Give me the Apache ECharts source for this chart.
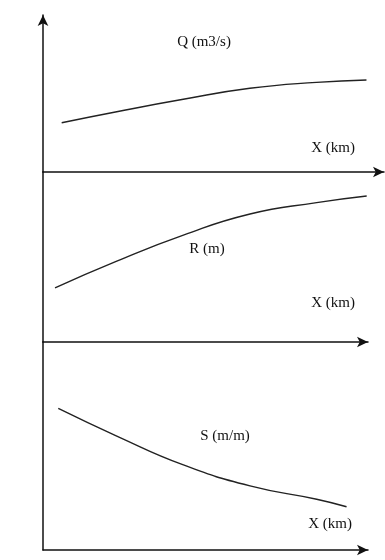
<!DOCTYPE html>
<html><head><meta charset="utf-8">
<script src="https://cdn.jsdelivr.net/npm/echarts@6/dist/echarts.min.js"></script>
<style>html,body{margin:0;padding:0;background:#fff}#c{width:385px;height:560px}</style>
</head><body><div id="c"></div>
<script>
// Distance along river X (arbitrary units, 0 = vertical axis)
const qX = [5.75, 22.7, 43.2, 63.7, 84.2, 99.6];
const qY = [31.4, 38.4, 46.3, 53.3, 57.1, 58.6];   // Q (m3/s), relative
const rX = [3.7, 22.7, 43.2, 63.7, 84.2, 99.6];
const rY = [31.9, 47.6, 62.9, 75.3, 82.0, 85.9];   // R (m), relative
const sX = [4.7, 22.7, 43.2, 63.7, 84.2, 93.4];
const sY = [68.1, 54.8, 40.9, 30.8, 24.4, 20.8];   // S (m/m), relative
const panelLabels = ['Q (m3/s)', 'R (m)', 'S (m/m)'];
const xLabel = 'X (km)';

const pair = (xs, ys) => xs.map((x, i) => [x, ys[i]]);
const font = {fontFamily: 'Liberation Serif', fontSize: 15, color: '#111', fontWeight: 'normal'};
const lineC = '#111';

const grids = [
  {left: 43, top: 15, width: 341, height: 157},
  {left: 43, top: 172, width: 325, height: 170},
  {left: 43, top: 342, width: 325, height: 208}
];
const xMax = [105, 100, 100];

const chart = echarts.init(document.getElementById('c'));
chart.setOption({
  animation: false,
  backgroundColor: '#fff',
  grid: grids,
  xAxis: grids.map((g, i) => ({
    type: 'value', gridIndex: i, min: 0, max: xMax[i],
    axisLine: {show: true, onZero: false, symbol: ['none', 'arrow'], symbolSize: [8, 11],
      lineStyle: {color: lineC, width: 1.5}},
    axisTick: {show: false}, axisLabel: {show: false}, splitLine: {show: false}
  })),
  yAxis: grids.map((g, i) => ({
    type: 'value', gridIndex: i, min: 0, max: 100,
    axisLine: {show: true, onZero: false, symbol: i === 0 ? ['none', 'arrow'] : ['none', 'none'],
      symbolSize: [8, 11], lineStyle: {color: lineC, width: 1.5}},
    axisTick: {show: false}, axisLabel: {show: false}, splitLine: {show: false}
  })),
  title: [
    {text: panelLabels[0], left: 204, top: 35, textAlign: 'center', textStyle: font},
    {text: xLabel, left: 333, top: 141, textAlign: 'center', textStyle: font},
    {text: panelLabels[1], left: 207, top: 242, textAlign: 'center', textStyle: font},
    {text: xLabel, left: 333, top: 296, textAlign: 'center', textStyle: font},
    {text: panelLabels[2], left: 225, top: 429, textAlign: 'center', textStyle: font},
    {text: xLabel, left: 330, top: 517, textAlign: 'center', textStyle: font}
  ].map(t => Object.assign({padding: 0}, t)),
  series: [
    {type: 'line', xAxisIndex: 0, yAxisIndex: 0, data: pair(qX, qY)},
    {type: 'line', xAxisIndex: 1, yAxisIndex: 1, data: pair(rX, rY)},
    {type: 'line', xAxisIndex: 2, yAxisIndex: 2, data: pair(sX, sY)}
  ].map(s => Object.assign({smooth: 0.5, showSymbol: false, symbol: 'none',
    lineStyle: {color: '#222', width: 1.4}}, s))
});
</script></body></html>
